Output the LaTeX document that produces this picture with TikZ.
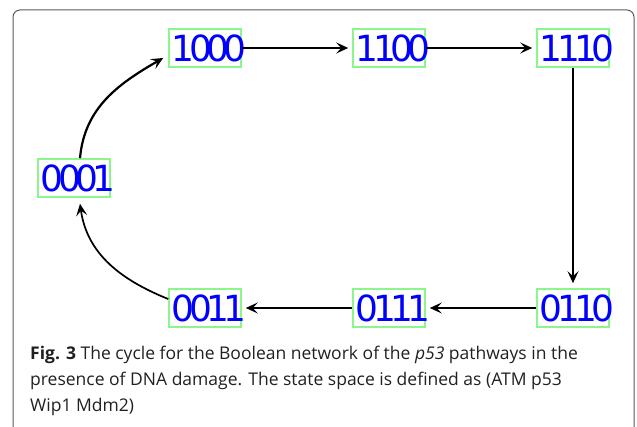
\documentclass[tikz,border=0pt]{standalone}
\usepackage{fontspec}
\setmainfont{Open Sans}
\newfontfamily\statefont[LetterSpace=-16]{DejaVu Sans}
\usetikzlibrary{arrows.meta}
\definecolor{stategreen}{RGB}{140,245,140}
\definecolor{stateblue}{RGB}{0,0,255}
\definecolor{framegray}{RGB}{90,90,90}
\definecolor{captiongray}{RGB}{35,31,32}
% state code, nudged slightly to the right inside its box
\newcommand{\statecode}[1]{\makebox[60pt]{\hspace*{8pt}#1}}

\begin{document}
\begin{tikzpicture}[x=1pt,y=1pt,
  state/.style={draw=stategreen, line width=1.6pt, minimum width=72pt,
    minimum height=38pt, inner sep=0pt, text=stateblue,
    font=\statefont\fontsize{36}{36}\selectfont},
  trans/.style={-{Stealth[length=12pt,width=11pt,inset=5pt]}, line width=2.2pt,
    shorten >=4pt},
  caption/.style={anchor=base west, inner sep=0pt, text=captiongray,
    font=\fontsize{17.5}{26}\selectfont}]
  \useasboundingbox (0,0) rectangle (637,427);

  % panel frame, open at the bottom
  \draw[framegray, line width=1pt, rounded corners=7pt]
    (13,-20) -- (13,417) -- (634,417) -- (634,-20);

  % states of the cycle
  \node[state] (s1000) at (205,379) {\statecode{1000}};
  \node[state] (s1100) at (389,379) {\statecode{1100}};
  \node[state] (s1110) at (573,379) {\statecode{1110}};
  \node[state] (s0001) at (74,249)  {\statecode{0001}};
  \node[state] (s0011) at (205,119) {\statecode{0011}};
  \node[state] (s0111) at (389,119) {\statecode{0111}};
  \node[state] (s0110) at (573,119) {\statecode{0110}};

  % transitions
  \draw[trans] (s1000) -- (s1100);
  \draw[trans] (s1100) -- (s1110);
  \draw[trans, shorten >=5pt] (s1110) -- (s0110);
  \draw[trans] (s0110) -- (s0111);
  \draw[trans] (s0111) -- (s0011);
  \draw[trans, line width=1.7pt, shorten >=0pt]
    ([yshift=9pt]s0011.west) to[out=158, in=-82] ([shift={(6pt,-6pt)}]s0001.south);
  \draw[trans, shorten >=0pt]
    ([xshift=6pt]s0001.north) to[out=85, in=210] ([shift={(-5pt,-10pt)}]s1000.west);

  % caption
  \node[caption] (cap1) at (30,67)
    {\textbf{Fig. 3} The cycle for the Boolean network of the \textit{p53} pathways in the};
  \node[caption] (cap2) at (30,41)
    {presence of DNA damage. The state space is defined as (ATM p53};
  \node[caption] (cap3) at (30,15)
    {Wip1 Mdm2)};
\end{tikzpicture}
\end{document}
